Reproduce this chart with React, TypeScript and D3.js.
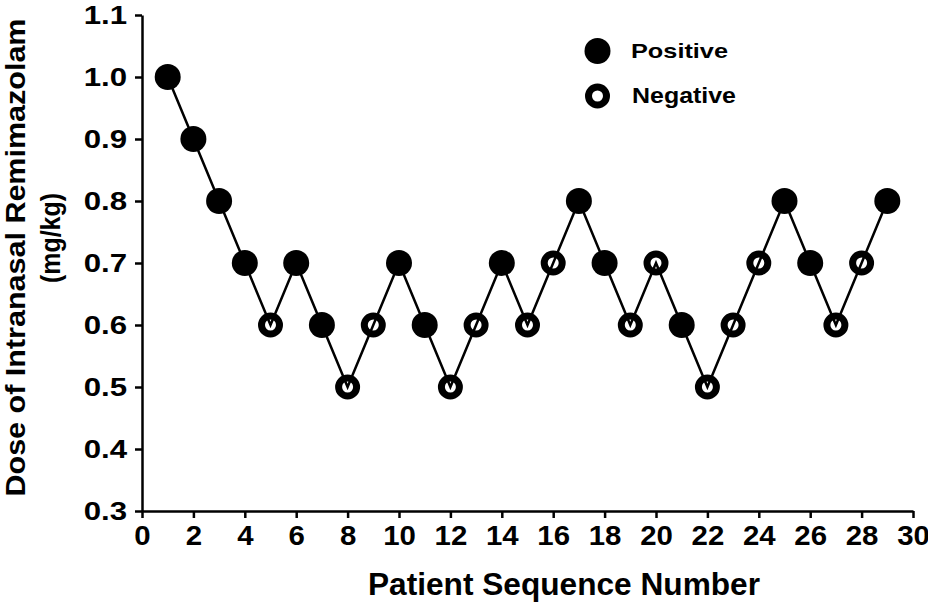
import React, { useRef, useEffect } from 'react';
import * as d3 from 'd3';

// patient sequence, dose given (mg/kg), response (true = positive)
const patients = d3.range(1, 30);
const doses = [1.0, 0.9, 0.8, 0.7, 0.6, 0.7, 0.6, 0.5, 0.6, 0.7, 0.6, 0.5, 0.6, 0.7, 0.6, 0.7, 0.8, 0.7, 0.6, 0.7, 0.6, 0.5, 0.6, 0.7, 0.8, 0.7, 0.6, 0.7, 0.8];
const responses = [true, true, true, true, false, true, true, false, false, true, true, false, false, true, false, false, true, true, false, false, true, false, false, false, true, true, false, false, true];

const xTicks = d3.range(0, 31, 2);
const yTicks = [0.3, 0.4, 0.5, 0.6, 0.7, 0.8, 0.9, 1.0, 1.1];
const legendItems = [
  { label: 'Positive', positive: true },
  { label: 'Negative', positive: false }
];

const W = 928;
const H = 607;
const FONT = '"Liberation Sans", Arial, Helvetica, sans-serif';

// widen a text element along its baseline
function stretch(sel: d3.Selection<any, any, any, any>, factor: number) {
  sel.each(function (this: SVGTextElement) {
    const len = this.getComputedTextLength();
    d3.select(this)
      .attr('textLength', len * factor)
      .attr('lengthAdjust', 'spacingAndGlyphs');
  });
}

const App: React.FC = () => {
  const svgRef = useRef<SVGSVGElement>(null);

  useEffect(() => {
    if (!svgRef.current) return;
    const svg = d3.select(svgRef.current);
    svg.selectAll('*').remove();

    const margin = { top: 15, right: 15, bottom: 96, left: 142 };
    const innerWidth = 913 - margin.left;
    const innerHeight = 511 - margin.top;

    const x = d3.scaleLinear().domain([0, 30]).range([0, innerWidth]);
    const y = d3.scaleLinear().domain([0.3, 1.1]).range([innerHeight, 0]);

    const g = svg.append('g').attr('transform', `translate(${margin.left},${margin.top})`);

    // X axis
    const xAxis = g.append('g')
      .attr('transform', `translate(0,${innerHeight})`)
      .call(d3.axisBottom(x).tickValues(xTicks).tickSize(7).tickSizeOuter(0).tickPadding(7).tickFormat(d3.format('d')));
    xAxis.select('.domain').attr('stroke-width', 2.5);
    xAxis.selectAll('line').attr('stroke-width', 2.5);
    const xLabels = xAxis.selectAll('text')
      .style('font-family', FONT)
      .style('font-weight', 'bold')
      .style('font-size', '28px')
      .attr('fill', '#000');
    stretch(xLabels, 1.05);

    // Y axis
    const yAxis = g.append('g')
      .call(d3.axisLeft(y).tickValues(yTicks).tickSize(7).tickSizeOuter(0).tickPadding(8).tickFormat(d3.format('.1f')));
    yAxis.select('.domain').attr('stroke-width', 2.5);
    yAxis.selectAll('line').attr('stroke-width', 2.5);
    const yLabels = yAxis.selectAll('text')
      .style('font-family', FONT)
      .style('font-weight', 'bold')
      .style('font-size', '26px')
      .attr('fill', '#000');
    stretch(yLabels, 1.2);

    // connecting line
    const line = d3.line<number>()
      .x((_, i) => x(patients[i]))
      .y(d => y(d));
    g.append('path')
      .datum(doses)
      .attr('d', line)
      .attr('fill', 'none')
      .attr('stroke', '#000')
      .attr('stroke-width', 2.5);

    // points
    patients.forEach((p, i) => {
      if (responses[i]) {
        g.append('circle')
          .attr('cx', x(p)).attr('cy', y(doses[i]))
          .attr('r', 13)
          .attr('fill', '#000');
      } else {
        g.append('circle')
          .attr('cx', x(p)).attr('cy', y(doses[i]))
          .attr('r', 9)
          .attr('fill', 'none')
          .attr('stroke', '#000')
          .attr('stroke-width', 7);
      }
    });

    // legend
    legendItems.forEach((item, i) => {
      const ly = 51 + i * 45;
      if (item.positive) {
        svg.append('circle').attr('cx', 597.5).attr('cy', ly).attr('r', 13).attr('fill', '#000');
      } else {
        svg.append('circle').attr('cx', 597.5).attr('cy', ly).attr('r', 9)
          .attr('fill', 'none').attr('stroke', '#000').attr('stroke-width', 7);
      }
      svg.append('text')
        .attr('x', item.positive ? 631 : 632)
        .attr('y', ly + 7)
        .style('font-family', FONT)
        .style('font-weight', 'bold')
        .style('font-size', item.positive ? '21px' : '22px')
        .attr('textLength', item.positive ? 97 : 104)
        .attr('lengthAdjust', 'spacingAndGlyphs')
        .text(item.label);
    });

    // axis titles
    svg.append('text')
      .attr('x', 564)
      .attr('y', 595)
      .attr('text-anchor', 'middle')
      .style('font-family', FONT)
      .style('font-weight', 'bold')
      .style('font-size', '30.5px')
      .attr('textLength', 392)
      .attr('lengthAdjust', 'spacingAndGlyphs')
      .text('Patient Sequence Number');

    svg.append('text')
      .attr('transform', 'translate(25,257.5) rotate(-90)')
      .attr('text-anchor', 'middle')
      .style('font-family', FONT)
      .style('font-weight', 'bold')
      .style('font-size', '27px')
      .attr('textLength', 478)
      .attr('lengthAdjust', 'spacingAndGlyphs')
      .text('Dose of Intranasal Remimazolam');

    svg.append('text')
      .attr('transform', 'translate(60,238) rotate(-90)')
      .attr('text-anchor', 'middle')
      .style('font-family', FONT)
      .style('font-weight', 'bold')
      .style('font-size', '27px')
      .attr('textLength', 90)
      .attr('lengthAdjust', 'spacingAndGlyphs')
      .text('(mg/kg)');
  }, []);

  return (
    <svg
      ref={svgRef}
      width={W}
      height={H}
      style={{ position: 'absolute', left: 0, top: 0, background: '#fff' }}
    />
  );
};

export default App;
